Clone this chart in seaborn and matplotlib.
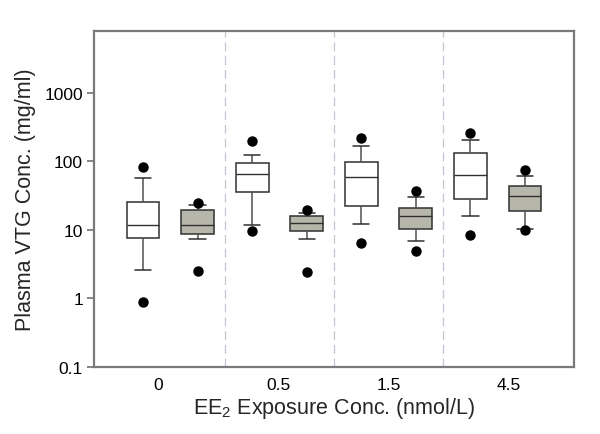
import pandas as pd
import matplotlib
matplotlib.use('Agg')
import matplotlib.pyplot as plt
import seaborn as sns

# Summary values (SigmaPlot style box plot:
# dots = 5th/95th, whiskers = 10th/90th, box = quartiles)
concs = ['0', '0.5', '1.5', '4.5']
groups = ['A', 'B']

# white boxes (group A)
a_p5 = [0.90, 9.7, 6.5, 8.5]
a_p10 = [2.6, 11.8, 12.1, 15.8]
a_q1 = [7.6, 35.5, 22.2, 28.0]
a_med = [11.7, 65.0, 59.0, 63.0]
a_q3 = [25.9, 96.0, 99.0, 132.0]
a_p90 = [57.0, 124.0, 168.0, 204.0]
a_p95 = [84.0, 199.0, 220.0, 263.0]

# grey boxes (group B)
b_p5 = [2.55, 2.46, 4.9, 9.9]
b_p10 = [7.3, 7.3, 6.8, 10.3]
b_q1 = [8.65, 9.6, 10.3, 18.7]
b_med = [11.7, 12.5, 15.8, 31.3]
b_q3 = [19.4, 16.2, 21.2, 43.5]
b_p90 = [23.0, 17.7, 30.6, 60.8]
b_p95 = [24.5, 19.6, 37.5, 74.5]


def build_rows(group, p5, p10, q1, med, q3, p90, p95):
    # nine values per box so the quartiles land exactly on q1/median/q3
    rows = []
    for i, c in enumerate(concs):
        vals = [p5[i], p10[i], q1[i], q1[i], med[i], q3[i], q3[i], p90[i], p95[i]]
        for v in vals:
            rows.append({'Conc': c, 'Group': group, 'VTG': v})
    return rows


df = pd.DataFrame(
    build_rows('A', a_p5, a_p10, a_q1, a_med, a_q3, a_p90, a_p95)
    + build_rows('B', b_p5, b_p10, b_q1, b_med, b_q3, b_p90, b_p95)
)

sns.set_theme(style='white')
plt.rcParams['font.family'] = ['Liberation Sans', 'DejaVu Sans']
plt.rcParams['mathtext.fontset'] = 'custom'
plt.rcParams['mathtext.rm'] = 'Liberation Sans'

fig = plt.figure(figsize=(6, 4.35), dpi=100)
ax = fig.add_axes([0.1567, 0.154, 0.80, 0.7724])

line_col = '#303030'
sns.boxplot(
    data=df, x='Conc', y='VTG', hue='Group', order=concs, hue_order=groups,
    palette={'A': 'white', 'B': '#b8b8a8'},
    width=1.0, gap=0.4, whis=(10, 90), ax=ax, legend=False,
    linewidth=1.1, linecolor=line_col,
    flierprops=dict(marker='o', markerfacecolor='black', markeredgecolor='black',
                    markersize=6.5),
    whiskerprops=dict(color='#505050', linewidth=1.1),
    capprops=dict(color=line_col, linewidth=1.1),
    medianprops=dict(color=line_col, linewidth=1.0),
)

ax.set_yscale('log')
ax.set_ylim(0.1, 8000)
ax.set_yticks([0.1, 1, 10, 100, 1000])
ax.set_yticklabels(['0.1', '1', '10', '100', '1000'])
ax.yaxis.set_minor_locator(matplotlib.ticker.NullLocator())
ax.set_xlim(-0.70, 3.70)

# group separators
for xs in [0.5, 1.5, 2.5]:
    ax.axvline(xs, color='#c4c4d2', linestyle=(0, (7, 4)), linewidth=0.9, zorder=0)

ax.set_xticks([-0.11, 0.99, 2.0, 3.1])
ax.set_xticklabels(concs)
ax.tick_params(axis='x', length=0, labelsize=12.5, pad=7, colors='black')
ax.tick_params(axis='y', length=5, width=1.2, direction='out',
               labelsize=12.5, pad=3, left=True)
ax.tick_params(axis='y', colors='#707070', labelcolor='black')

for side in ['left', 'right', 'top', 'bottom']:
    ax.spines[side].set_visible(True)
    ax.spines[side].set_color('#7a7a7a')
    ax.spines[side].set_linewidth(1.6)

ax.set_xlabel(r'EE$_2$ Exposure Conc. (nmol/L)', fontsize=15.5, labelpad=2)
ax.set_ylabel('Plasma VTG Conc. (mg/ml)', fontsize=15.5, labelpad=6)

fig.savefig('out.png', dpi=100)
